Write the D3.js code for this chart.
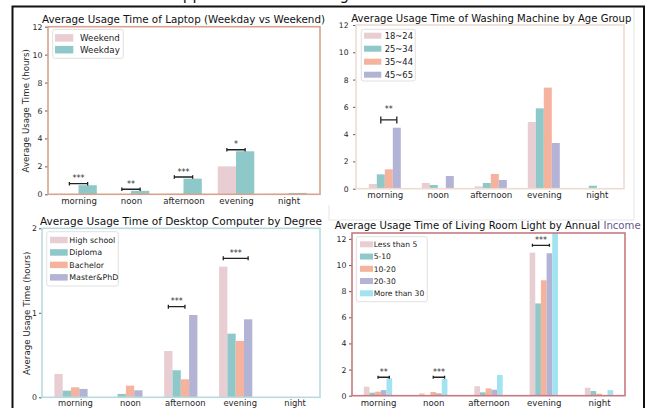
<!DOCTYPE html>
<html>
<head>
<meta charset="utf-8">
<script src="https://cdn.jsdelivr.net/npm/d3@7"></script>
<style>
  body { margin: 0; background: #fff; }
  svg { display: block; }
  text { font-family: "DejaVu Sans", sans-serif; }
</style>
</head>
<body>
<svg id="chart" width="658" height="408"></svg>
<script>
// ---- shared categories ----
const timeSlots = ["morning", "noon", "afternoon", "evening", "night"];

// ---- Laptop: weekday vs weekend (hours) ----
const laptopGroups = ["Weekend", "Weekday"];
const laptopWeekend = [0.03, 0.02, 0.05, 2.0, 0.04];
const laptopWeekday = [0.65, 0.25, 1.12, 3.08, 0.1];
const laptopSig = [
  ["morning", "Weekend", "Weekday", 0.76, "***"],
  ["noon", "Weekend", "Weekday", 0.36, "**"],
  ["afternoon", "Weekend", "Weekday", 1.24, "***"],
  ["evening", "Weekend", "Weekday", 3.19, "*"]
];
const laptopTicks = [0, 2, 4, 6, 8, 10, 12];

// ---- Washing machine by age group (hours) ----
const ageGroups = ["18~24", "25~34", "35~44", "45~65"];
const wash1824 = [0.34, 0.42, 0.17, 4.89, 0];
const wash2534 = [1.05, 0.27, 0.42, 5.89, 0.22];
const wash3544 = [1.42, 0, 1.08, 7.41, 0];
const wash4565 = [4.47, 0.93, 0.64, 3.35, 0];
const washSig = [["morning", "25~34", "45~65", 5.04, "**"]];
const washTicks = [0, 2, 4, 6, 8, 10, 12];

// ---- Desktop computer by degree (hours) ----
const degreeGroups = ["High school", "Diploma", "Bachelor", "Master&PhD"];
const deskHighSchool = [0.276, 0, 0.548, 1.546, 0];
const deskDiploma = [0.079, 0.04, 0.32, 0.753, 0];
const deskBachelor = [0.118, 0.138, 0.213, 0.667, 0];
const deskMaster = [0.099, 0.083, 0.974, 0.923, 0];
const deskSig = [
  ["afternoon", "High school", "Bachelor", 1.073, "***"],
  ["evening", "High school", "Master&PhD", 1.645, "***"]
];
const deskTicks = [0, 1, 2];

// ---- Living room light by annual income (hours) ----
const incomeGroups = ["Less than 5", "5-10", "10-20", "20-30", "More than 30"];
const lightLess5 = [0.69, 0.18, 0.72, 10.95, 0.61];
const light5to10 = [0.23, 0.04, 0.26, 7.06, 0.36];
const light10to20 = [0.31, 0.28, 0.56, 8.83, 0.15];
const light20to30 = [0.43, 0.18, 0.46, 10.9, 0];
const lightMore30 = [1.33, 1.28, 1.59, 12.45, 0.43];
const lightSig = [
  ["morning", "10-20", "More than 30", 1.41, "**"],
  ["noon", "10-20", "More than 30", 1.41, "***"],
  ["evening", "Less than 5", "20-30", 11.51, "***"]
];
const lightTicks = [0, 2, 4, 6, 8, 10, 12];

// ---- palette ----
const PINK = "#e8cdd2", TEAL = "#8ec8c9", SALMON = "#f5b29c", LAVENDER = "#b3b4d5", CYAN = "#a2e3f1";

const svg = d3.select("#chart");

// page heading: sits above the sheet, only its lowest strokes reach the top edge
svg.append("text")
  .attr("x", 172.6).attr("y", 0.3)
  .attr("font-size", 15).attr("fill", "#111")
  .text("Appliance Electric Usage");
svg.append("path")
  .attr("d", "M12.5,408 V6.5 H644 V408")
  .attr("fill", "none").attr("stroke", "#111").attr("stroke-width", 2);

// faint outline left around the right-hand panels
svg.append("path")
  .attr("d", "M634,8 V220 H329 V205")
  .attr("fill", "none").attr("stroke", "#e6e6e6").attr("stroke-width", 1);

function drawPanel(p) {
  const g = svg.append("g");
  const f = p.frame;
  const x = d3.scalePoint().domain(timeSlots).range(p.xRange);
  const y = d3.scaleLinear().domain(p.yDomain).range([f.y1, f.y0]);
  const n = p.groups.length, bw = p.barWidth;
  const barX = (slot, j) => x(slot) + (j - n / 2) * bw;
  const clip = v => Math.min(v, p.yDomain[1]);

  // bars, one layer per series
  p.groups.forEach((name, j) => {
    g.append("g").selectAll("rect")
      .data(timeSlots.map((s, i) => ({ slot: s, v: p.values[j][i] })))
      .join("rect")
      .attr("x", d => barX(d.slot, j))
      .attr("y", d => y(clip(d.v)))
      .attr("width", bw)
      .attr("height", d => y(0) - y(clip(d.v)))
      .attr("fill", p.colors[j]);
  });

  // y axis
  const ya = g.append("g").attr("transform", `translate(${f.x0},0)`)
    .call(d3.axisLeft(y).tickValues(p.ticks).tickFormat(d3.format("d")).tickSize(3).tickPadding(p.yPad));
  ya.select(".domain").remove();
  ya.selectAll("line").attr("stroke", "#333").attr("stroke-width", 0.8);
  ya.selectAll("text").attr("font-size", p.yFont).attr("fill", "#262626").attr("font-family", "DejaVu Sans");

  // x axis
  const xa = g.append("g").attr("transform", `translate(0,${f.y1})`)
    .call(d3.axisBottom(x).tickSize(0).tickPadding(p.xPad));
  xa.select(".domain").remove();
  xa.selectAll("text").attr("font-size", p.xFont).attr("fill", "#262626")
    .attr("font-family", "DejaVu Sans").attr("dx", p.xNudge || 0);

  // frame
  g.append("rect")
    .attr("x", f.x0).attr("y", f.y0)
    .attr("width", f.x1 - f.x0).attr("height", f.y1 - f.y0)
    .attr("fill", "none").attr("stroke", p.frameColor).attr("stroke-width", 1.6);

  // significance brackets
  p.sig.forEach(([slot, a, b, v, stars]) => {
    const x0 = barX(slot, p.groups.indexOf(a)) + bw / 2;
    const x1 = barX(slot, p.groups.indexOf(b)) + bw / 2;
    const yy = y(v), c = p.capH / 2;
    g.append("path")
      .attr("d", `M${x0},${yy - c}V${yy + c}M${x0},${yy}H${x1}M${x1},${yy - c}V${yy + c}`)
      .attr("fill", "none").attr("stroke", "#222").attr("stroke-width", 1.3);
    g.append("text")
      .attr("x", (x0 + x1) / 2).attr("y", yy - p.starLift)
      .attr("text-anchor", "middle").attr("font-size", 8).attr("fill", "#333")
      .text(stars);
  });

  // y label
  if (p.yLabel) {
    g.append("text")
      .attr("transform", `translate(${p.yLabel.x},${p.yLabel.y}) rotate(-90)`)
      .attr("text-anchor", "middle").attr("font-size", 8.7).attr("fill", "#262626")
      .text("Average Usage Time (hours)");
  }

  // legend
  const L = p.legend;
  g.append("rect")
    .attr("x", L.x).attr("y", L.y).attr("width", L.w).attr("height", L.h).attr("rx", 2)
    .attr("fill", "#fff").attr("fill-opacity", 0.9)
    .attr("stroke", "#d8d8d8").attr("stroke-width", 0.8);
  p.groups.forEach((name, i) => {
    const cy = L.row0 + i * L.step;
    g.append("rect").attr("x", L.sx).attr("y", cy - L.sh / 2)
      .attr("width", L.sw).attr("height", L.sh).attr("fill", p.colors[i]);
    g.append("text").attr("x", L.tx).attr("y", cy).attr("dy", "0.36em")
      .attr("font-size", L.fs).attr("fill", "#222").text(name);
  });

  // title
  const t = g.append("text")
    .attr("x", p.title.x).attr("y", p.title.y)
    .attr("font-size", 10.2).attr("fill", "#111")
    .attr("textLength", p.title.len).attr("lengthAdjust", "spacingAndGlyphs");
  t.append("tspan").text(p.title.text);
  if (p.title.tail) t.append("tspan").attr("fill", "#66598a").text(p.title.tail);
}

drawPanel({
  groups: laptopGroups, values: [laptopWeekend, laptopWeekday], colors: [PINK, TEAL],
  sig: laptopSig, ticks: laptopTicks, yDomain: [0, 12],
  frame: { x0: 48, x1: 320, y0: 26.7, y1: 194.3 }, frameColor: "#d9a28c",
  xRange: [78.5, 288.5], barWidth: 18.3,
  yPad: 2.5, yFont: 7.8, xPad: 3.6, xFont: 8.6,
  capH: 3.5, starLift: 2.3,
  yLabel: { x: 29, y: 110.8 },
  legend: { x: 52.7, y: 29.3, w: 70.6, h: 29, sx: 55, sw: 18.3, sh: 7.5, tx: 80, row0: 37.9, step: 11.8, fs: 8.7 },
  title: { x: 42, y: 23, len: 283, text: "Average Usage Time of Laptop (Weekday vs Weekend)" }
});

drawPanel({
  groups: ageGroups, values: [wash1824, wash2534, wash3544, wash4565], colors: [PINK, TEAL, SALMON, LAVENDER],
  sig: washSig, ticks: washTicks, yDomain: [0, 12],
  frame: { x0: 356, x1: 624, y0: 25, y1: 188.7 }, frameColor: "#efdbd0",
  xRange: [384.8, 596.8], barWidth: 8,
  yPad: 4.5, yFont: 7.6, xPad: 3.5, xFont: 8.7,
  capH: 7, starLift: 8.3,
  legend: { x: 361.3, y: 29.3, w: 54, h: 51.7, sx: 364, sw: 17.3, sh: 6, tx: 384.7, row0: 35.7, step: 13, fs: 8.4 },
  title: { x: 351.3, y: 22, len: 280, text: "Average Usage Time of Washing Machine by Age Group" }
});

drawPanel({
  groups: degreeGroups, values: [deskHighSchool, deskDiploma, deskBachelor, deskMaster], colors: [PINK, TEAL, SALMON, LAVENDER],
  sig: deskSig, ticks: deskTicks, yDomain: [0, 2],
  frame: { x0: 42, x1: 320, y0: 228.3, y1: 397.3 }, frameColor: "#b7dbe1",
  xRange: [71, 290.6], barWidth: 8.3,
  yPad: 2, yFont: 7.8, xPad: 3, xFont: 8.4, xNudge: 4,
  capH: 4, starLift: 2.6,
  yLabel: { x: 29.5, y: 313.3 },
  legend: { x: 46.7, y: 231.7, w: 71.6, h: 54.3, sx: 50, sw: 17.7, sh: 6.5, tx: 69.3, row0: 240, step: 12.45, fs: 7.9 },
  title: { x: 40, y: 225, len: 282, text: "Average Usage Time of Desktop Computer by Degree" }
});

drawPanel({
  groups: incomeGroups, values: [lightLess5, light5to10, light10to20, light20to30, lightMore30],
  colors: [PINK, TEAL, SALMON, LAVENDER, CYAN],
  sig: lightSig, ticks: lightTicks, yDomain: [0, 12.45],
  frame: { x0: 352, x1: 625, y0: 233, y1: 395.7 }, frameColor: "#c9787f",
  xRange: [378, 599], barWidth: 5.67,
  yPad: 2.5, yFont: 7.8, xPad: 3.8, xFont: 8.6,
  capH: 3, starLift: 2,
  legend: { x: 356.3, y: 236.7, w: 71, h: 65, sx: 360, sw: 13, sh: 6, tx: 373.7, row0: 244.3, step: 12.25, fs: 7.6 },
  title: { x: 334.7, y: 229, len: 306, text: "Average Usage Time of Living Room Light by Annual ", tail: "Income" }
});
</script>
</body>
</html>
